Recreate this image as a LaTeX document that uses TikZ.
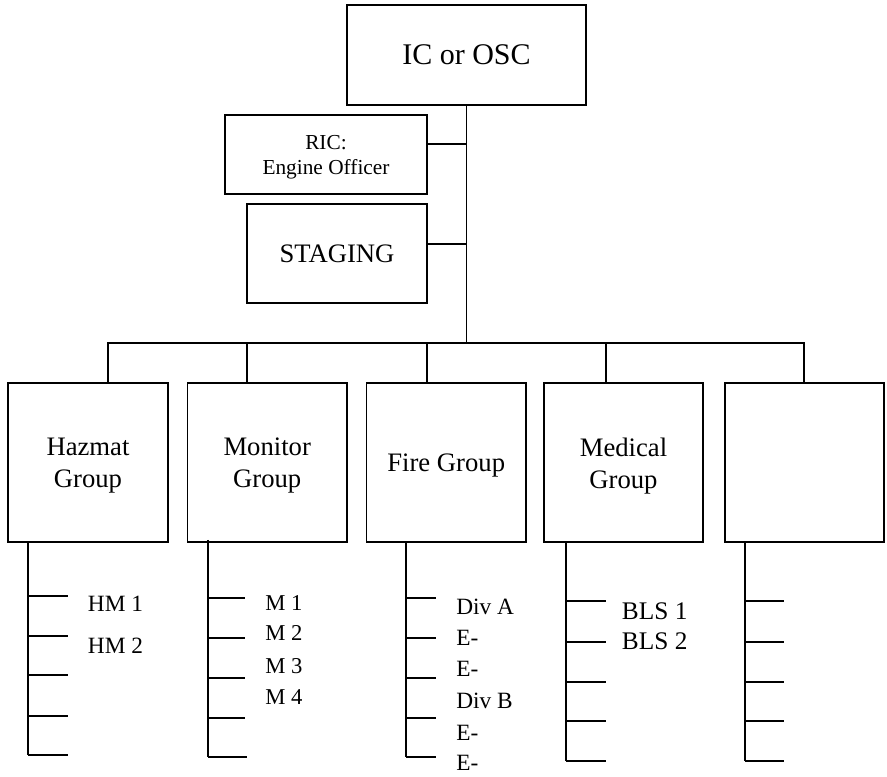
\documentclass[tikz,border=0pt]{standalone}
\usepackage{fontspec}
\setmainfont{Liberation Serif}
\begin{document}
\begin{tikzpicture}[x=0.75pt,y=-0.75pt,
  box/.style={draw,line width=1.4pt,rectangle,inner sep=0pt,align=center},
  grp/.style={box,minimum width=119.6pt,minimum height=119pt},
  title/.style={align=center,inner sep=0pt,yshift=-2.25pt,font=\fontsize{20}{24}\selectfont},
  wire/.style={line width=1.4pt},
  item/.style={anchor=base west,inner sep=0pt}]
\useasboundingbox (0,0) rectangle (887,776);

% command boxes
\node[box,minimum width=179.25pt,minimum height=75pt,font=\fontsize{22.5}{27}\selectfont] (ic) at (466.5,55) {IC or OSC};
\node[box,minimum width=151.5pt,minimum height=59.25pt,
      label={[title,name=ric-t,font=\fontsize{16}{18.75}\selectfont]center:RIC:\\Engine Officer}] (ric) at (326,154.2) {};
\node[box,minimum width=135pt,minimum height=74.5pt,font=\fontsize{20}{24}\selectfont] (stg) at (337,253.7) {STAGING};

% groups
\node[grp,label={[title,name=hz-t]center:Hazmat\\Group}]    (hz)   at (88,462.7)    {};
\node[grp,label={[title,name=mon-t]center:Monitor\\Group}]  (mon)  at (267.2,462.7) {};
\node[grp,label={[title,name=fire-t]center:Fire Group}]     (fire) at (446.2,462.7) {};
\node[grp,label={[title,name=med-t]center:Medical\\Group}]  (med)  at (623.5,462.7) {};
\node[grp] (blank) at (804.3,462.7) {};

% trunk and bus
\coordinate (jr) at (466.5,144.3);
\coordinate (js) at (466.5,244);
\coordinate (bus) at (466.5,343.3);
\draw[wire] (ic.south) -- (bus);
\draw[wire] (jr) -- (jr -| ric.east);
\draw[wire] (js) -- (js -| stg.east);
\draw[wire] ([xshift=14.8pt]hz.north) |- (bus);
\draw[wire] ([xshift=-14.9pt]mon.north) |- (bus);
\draw[wire] ([xshift=-14.6pt]fire.north) |- (bus);
\draw[wire] ([xshift=-13.4pt]med.north) |- (bus);
\draw[wire] (blank.north) |- (bus);

% unit lists under each group
\coordinate (s1) at (28.3,755);
\draw[wire] (s1 |- hz.south) -- (s1);
\foreach \y in {596,636,675.3,715.7,755} \draw[wire] (28.3,\y) -- ++(40,0);

\coordinate (s2) at (207.7,757.3);
\draw[wire] ([yshift=2.25pt]s2 |- mon.south) -- (s2);
\foreach \y in {598.3,637.7,677.7,717.7} \draw[wire] (207.7,\y) -- ++(37.3,0);
\draw[wire] (s2) -- ++(39.6,0);

\coordinate (s3) at (406.3,757.3);
\draw[wire] (s3 |- fire.south) -- (s3);
\foreach \y in {598.3,637.7,677.7,717.7,757.3} \draw[wire] (406.3,\y) -- ++(29.7,0);

\coordinate (s4) at (566,760.7);
\draw[wire] (s4 |- med.south) -- (s4);
\foreach \y in {601,641.7,681.7,721.3,760.7} \draw[wire] (566,\y) -- ++(40,0);

\coordinate (s5) at (745,760.7);
\draw[wire] (s5 |- blank.south) -- (s5);
\foreach \y in {601,641.7,681.7,721.3,760.7} \draw[wire] (745,\y) -- ++(39.3,0);

% unit labels
\begin{scope}[font=\fontsize{17.5}{21}\selectfont]
\node[item] (hm1) at (87.7,611.7) {HM 1};
\node[item] (hm2) at (87.7,653.3) {HM 2};
\end{scope}
\begin{scope}[font=\fontsize{17}{20}\selectfont]
\node[item] (m1) at (265,610)   {M 1};
\node[item] (m2) at (265,640)   {M 2};
\node[item] (m3) at (265,673.3) {M 3};
\node[item] (m4) at (265,704.3) {M 4};
\end{scope}
\begin{scope}[font=\fontsize{17.5}{21}\selectfont]
\node[item] (da)  at (456,614)   {Div A};
\node[item] (e1)  at (456,645)   {E-};
\node[item] (e2)  at (456,676)   {E-};
\node[item] (db)  at (456,708.3) {Div B};
\node[item] (e3)  at (456,740)   {E-};
\node[item] (e4)  at (456,770)   {E-};
\end{scope}
\begin{scope}[font=\fontsize{19}{23}\selectfont]
\node[item] (bls1) at (621.7,619.3) {BLS 1};
\node[item] (bls2) at (621.7,649.3) {BLS 2};
\end{scope}
\end{tikzpicture}
\end{document}
